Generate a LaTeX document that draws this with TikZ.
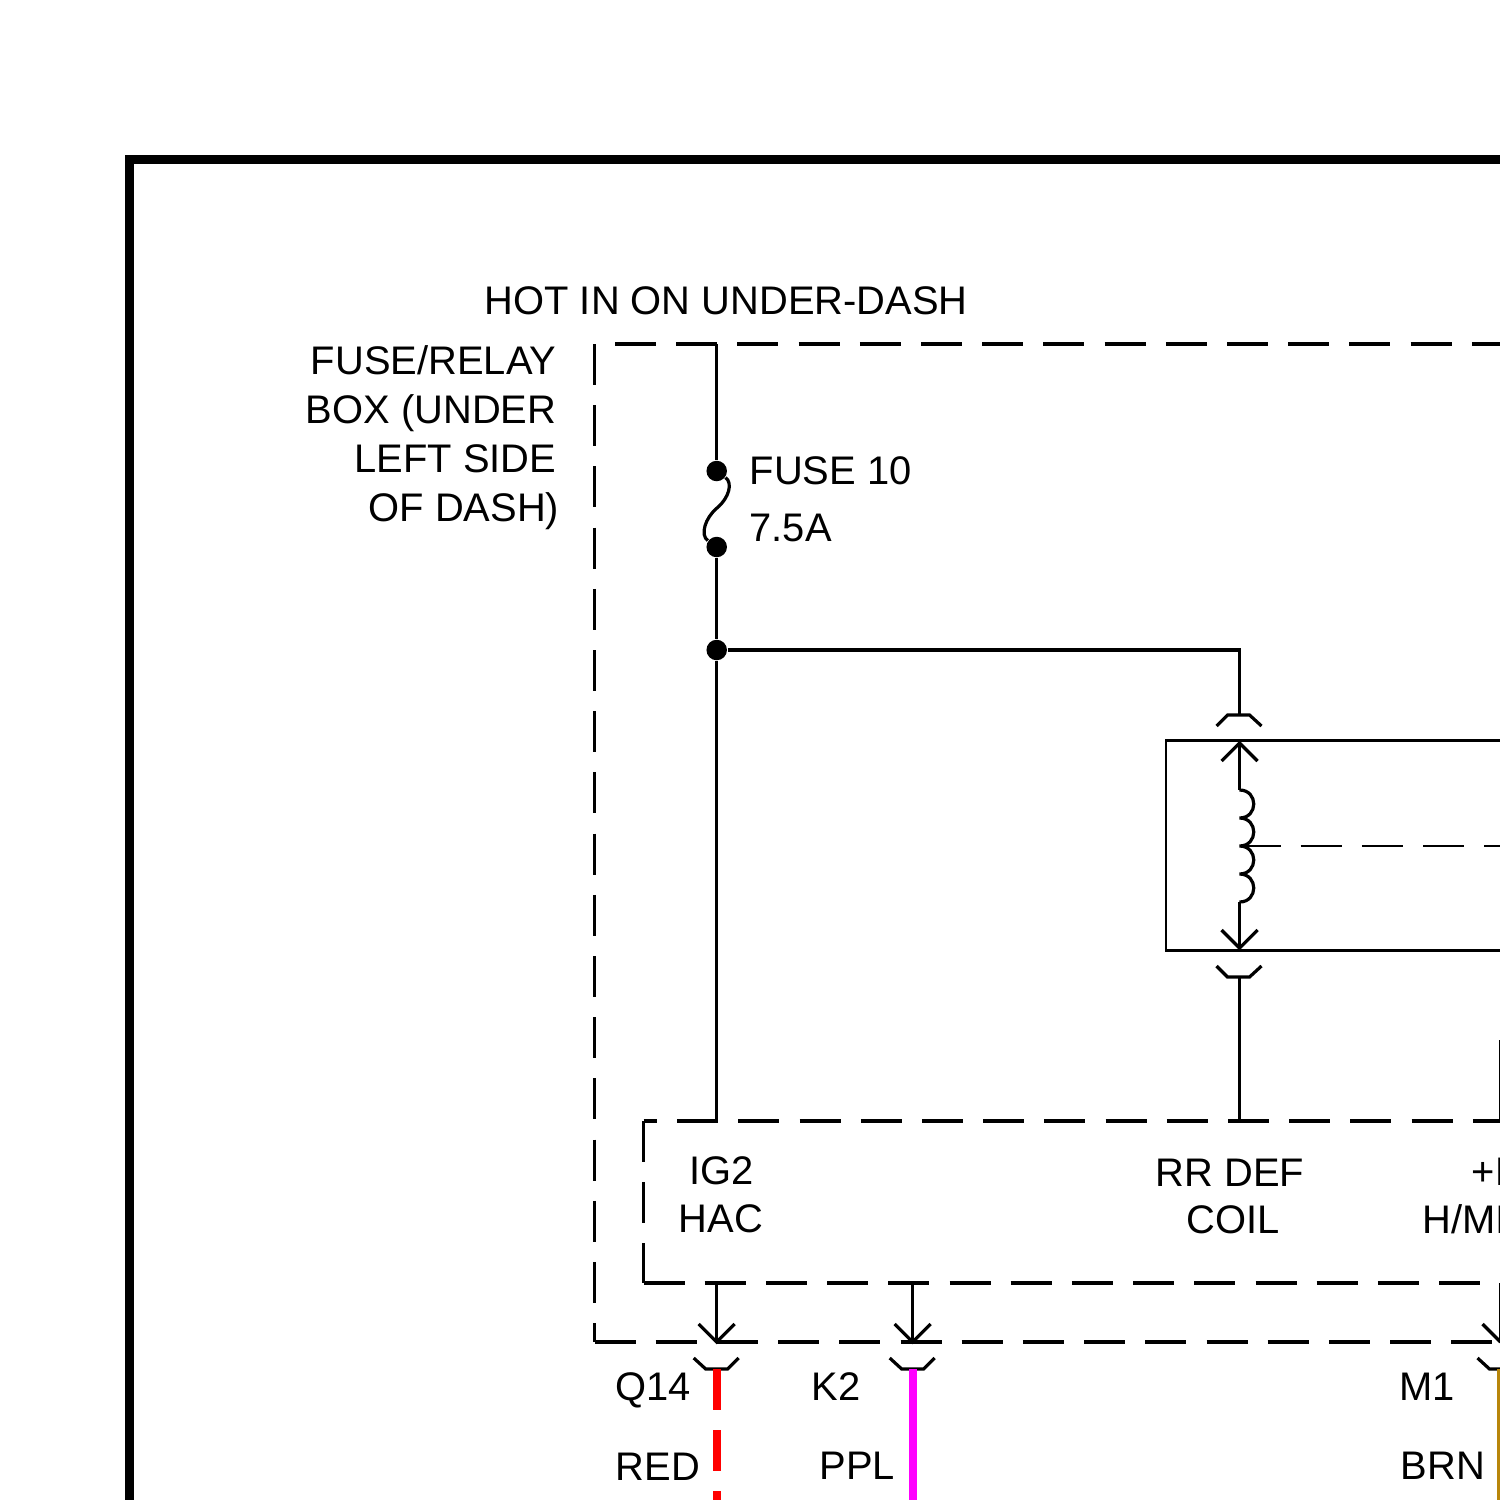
\documentclass[tikz,border=0pt]{standalone}
\usepackage{fontspec}
\setmainfont{Liberation Sans}
\definecolor{wirered}{RGB}{255,0,0}
\definecolor{wireppl}{RGB}{255,0,255}
\definecolor{wirebrn}{RGB}{184,134,11}
\tikzset{
  frameline/.style={line width=0.9mm,line cap=butt},
  wire/.style={line width=0.32mm},
  relayline/.style={line width=0.29mm},
  boxdash/.style={line width=0.33mm,dash pattern=on 4.1mm off 2.02mm},
  thindash/.style={line width=0.2mm,dash pattern=on 4.1mm off 2.02mm},
  colwire/.style={line width=0.8mm},
  dot/.style={circle,fill=black,inner sep=0pt,minimum size=2.05mm},
  lblL/.style={anchor=base west,inner sep=0pt,font=\fontsize{11.35pt}{13pt}\selectfont},
  lblR/.style={anchor=base east,inner sep=0pt,font=\fontsize{11.35pt}{13pt}\selectfont},
  lblC/.style={anchor=base,inner sep=0pt,font=\fontsize{11.35pt}{13pt}\selectfont}
}
\begin{document}
\begin{tikzpicture}[x=0.1mm,y=-0.1mm]
\useasboundingbox (0,0) rectangle (1500,1500);
% frame
\coordinate (frameTL) at (129,159.5);
\coordinate (frameTR) at (1500,159.5);
\coordinate (frameBL) at (129,1503);
\draw[frameline] (frameTR) -- (frameTL) -- (frameBL);
% fuse box
\coordinate (boxTL) at (594.5,344);
\coordinate (boxBL) at (594.5,1342);
\coordinate (boxBR) at (1500,1342);
\coordinate (boxTa) at (615,344);
\coordinate (boxTb) at (1500,344);
\draw[boxdash] (boxTL) -- (boxBL);
\draw[boxdash] (boxBL) -- (boxBR);
\draw[boxdash] (boxTa) -- (boxTb);
% inner block
\coordinate (blockTL) at (643.5,1121);
\coordinate (blockBL) at (643.5,1283);
\coordinate (blockBR) at (1500,1283);
\coordinate (blockTR) at (1500,1121);
\draw[boxdash] (blockTL) -- (blockBL);
\draw[boxdash] (blockBL) -- (blockBR);
\draw[boxdash,dash phase=2.75mm] (blockTL) -- (blockTR);
% fuse and main wire
\coordinate (hotin) at (716.7,344);
\coordinate (ig2) at (716.7,1121);
\node[dot] (fuseA) at (716.7,471) {};
\node[dot] (fuseB) at (716.7,547) {};
\node[dot] (tee) at (716.7,650) {};
\draw[wire] (hotin) -- (fuseA);
\draw[wire] (fuseB) -- (tee) -- (ig2);
\draw[wire] (fuseA) .. controls (733,483) and (729,498) .. (717,508) .. controls (705,518) and (700,535) .. (fuseB);
% relay
\coordinate (relayTR) at (1500,740.3);
\coordinate (relayTL) at (1166,740.3);
\coordinate (relayBL) at (1166,950.3);
\coordinate (relayBR) at (1500,950.3);
\draw[relayline] (relayTR) -- (relayTL) -- (relayBL) -- (relayBR);
\coordinate (plugT) at (1239.5,715);
\coordinate (corner) at (1239.5,650);
\draw[wire] (tee) -- (corner) -- (plugT);
\draw[wire] (plugT) ++(-23,11) -- ++(11,-11) -- ++(22,0) -- ++(12,11);
\coordinate (tipT) at (1239.5,743);
\coordinate (coilT) at (1239.5,790);
\coordinate (coilM) at (1239.5,846);
\coordinate (coilB) at (1239.5,902);
\coordinate (tipB) at (1239.5,948);
\draw[wire] (tipT) -- (coilT);
\draw[wire] (tipT) ++(-18,18) -- ++(18,-18) -- ++(18,18);
\draw[wire] (coilT) .. controls +(19,0) and +(19,0) .. ++(0,28)
  .. controls +(19,0) and +(19,0) .. ++(0,28)
  .. controls +(19,0) and +(19,0) .. ++(0,28)
  .. controls +(19,0) and +(19,0) .. ++(0,28);
\draw[wire] (coilB) -- (tipB);
\draw[wire] (tipB) ++(-18,-18) -- ++(18,18) -- ++(18,-18);
\coordinate (linkEnd) at (1500,846);
\draw[thindash] (coilM) -- (linkEnd);
\coordinate (plugB) at (1239.5,977);
\coordinate (rrdef) at (1239.5,1121);
\draw[wire] (plugB) -- (rrdef);
\draw[wire] (plugB) ++(-23,-11) -- ++(11,11) -- ++(22,0) -- ++(12,-11);
% third wire into block
\coordinate (hmicA) at (1500.5,1040);
\coordinate (hmicB) at (1500.5,1121);
\draw[wire] (hmicA) -- (hmicB);
% outputs
\coordinate (outA) at (716.7,1283);
\coordinate (tipA) at (716.7,1342);
\coordinate (plugA) at (716.7,1369);
\coordinate (endA) at (716.7,1503);
\draw[wire] (outA) -- (tipA);
\draw[wire] (tipA) ++(-18,-18) -- ++(18,18) -- ++(18,-18);
\draw[wire] (plugA) ++(-23,-11) -- ++(12,11) -- ++(22,0) -- ++(11,-11);
\draw[colwire,wirered,dash pattern=on 4.05mm off 2.05mm] (plugA) -- (endA);
\coordinate (outK) at (912.7,1283);
\coordinate (tipK) at (912.7,1342);
\coordinate (plugK) at (912.7,1369);
\coordinate (endK) at (912.7,1503);
\draw[wire] (outK) -- (tipK);
\draw[wire] (tipK) ++(-18,-18) -- ++(18,18) -- ++(18,-18);
\draw[wire] (plugK) ++(-23,-11) -- ++(12,11) -- ++(22,0) -- ++(11,-11);
\draw[colwire,wireppl] (plugK) -- (endK);
\coordinate (outM) at (1500.5,1283);
\coordinate (tipM) at (1500.5,1342);
\coordinate (plugM) at (1500.5,1369);
\coordinate (endM) at (1500.5,1503);
\draw[wire] (outM) -- (tipM);
\draw[wire] (tipM) ++(-18,-18) -- ++(18,18);
\draw[wire] (plugM) ++(-23,-11) -- ++(12,11) -- ++(11,0);
\draw[colwire,wirebrn] (plugM) -- (endM);
% labels
\node[lblL] (hotLbl) at (484,314) {HOT IN ON UNDER-DASH};
\node[lblR] (boxLblA) at (557,374) {FUSE/RELAY};
\node[lblR] (boxLblB) at (557,423) {BOX (UNDER};
\node[lblR] (boxLblC) at (557,472) {LEFT SIDE};
\node[lblR] (boxLblD) at (560,521) {OF DASH)};
\node[lblL] (fuseLblA) at (749,484) {FUSE 10};
\node[lblL] (fuseLblB) at (749,541) {7.5A};
\node[lblC] (igLblA) at (722,1184) {IG2};
\node[lblC] (igLblB) at (721,1232) {HAC};
\node[lblC] (rrLblA) at (1230,1186) {RR DEF};
\node[lblC] (rrLblB) at (1233,1233) {COIL};
\node[lblL] (hmLblA) at (1471,1185) {+B};
\node[lblL] (hmLblB) at (1422,1233) {H/MI};
\node[lblL] (q14Lbl) at (615,1400) {Q14};
\node[lblL] (redLbl) at (615,1480) {RED};
\node[lblL] (k2Lbl) at (811,1400) {K2};
\node[lblL] (pplLbl) at (819,1479) {PPL};
\node[lblL] (m1Lbl) at (1399,1400) {M1};
\node[lblL] (brnLbl) at (1400,1479) {BRN};
\end{tikzpicture}
\end{document}
